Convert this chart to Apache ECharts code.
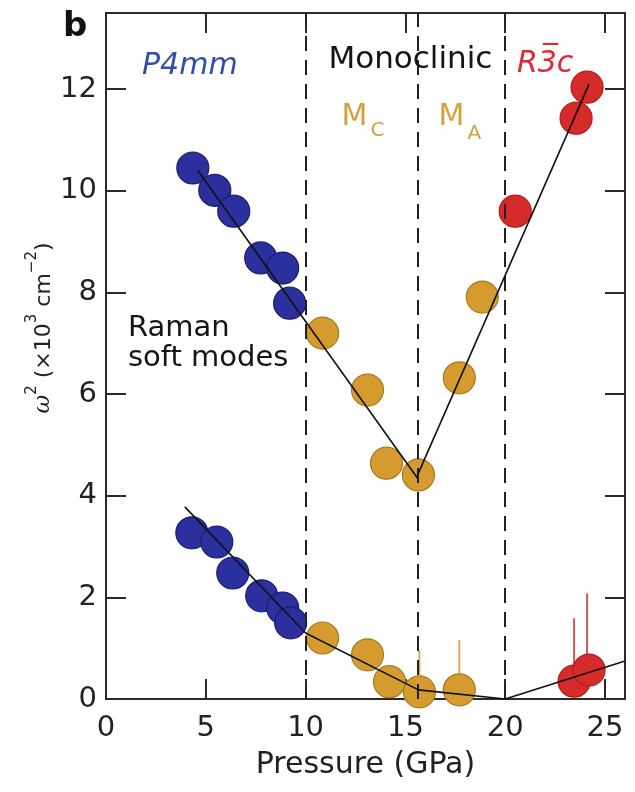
<!DOCTYPE html>
<html>
<head>
<meta charset="utf-8">
<script src="https://cdn.jsdelivr.net/npm/echarts@6/dist/echarts.min.js"></script>
<style>
  html, body { margin: 0; padding: 0; background: #fff; }
  #chart { width: 635px; height: 792px; }
</style>
</head>
<body>
<div id="chart"></div>
<script>
// Raman soft-mode frequencies squared (10^3 cm^-2) versus pressure (GPa)
// Upper branch
const tetraUpper = [[4.35, 10.45], [5.45, 10.01], [6.4, 9.6], [7.75, 8.68], [8.85, 8.48], [9.2, 7.79]];
const monoUpper = [[10.85, 7.2], [13.1, 6.08], [14.05, 4.64], [15.65, 4.41], [17.7, 6.32], [18.85, 7.91]];
const rhomboUpper = [[20.5, 9.6], [23.55, 11.43], [24.1, 12.04]];
// Lower branch
const tetraLower = [[4.3, 3.27], [5.55, 3.09], [6.35, 2.48], [7.8, 2.03], [8.85, 1.79], [9.25, 1.5]];
const monoLower = [[10.85, 1.2], [13.1, 0.87], [14.2, 0.34], [15.7, 0.14], [17.7, 0.18]];
const rhomboLower = [[23.45, 0.35], [24.2, 0.57]];
// Error bars: [pressure, value, upper limit]
const monoLowerErr = [[15.7, 0.14, 0.96], [17.7, 0.18, 1.16]];
const rhomboLowerErr = [[23.45, 0.35, 1.59], [24.1, 0.57, 2.08]];
// Guide lines through the data
const guideUpperLeft = [[4.6, 10.4], [15.6, 4.35]];
const guideUpperRight = [[15.6, 4.4], [24.2, 12.1]];
const guideLower = [[3.95, 3.78], [10, 1.3], [15.65, 0.18], [20, 0], [26, 0.75]];
// Phase boundaries (GPa)
const phaseBoundaries = [10, 15.6, 20];
// Axis ticks
const xTicks = [0, 5, 10, 15, 20, 25];
const yTicks = [0, 2, 4, 6, 8, 10, 12];

const FONT = 'DejaVu Sans';
const AXIS_COLOR = '#2a2a2a';
const BLUE = '#2c2f9e', BLUE_EDGE = '#1c1f6a';
const GOLD = '#d69b2e', GOLD_EDGE = '#a9781f';
const RED = '#d62b2b', RED_EDGE = '#b01c1c';
const MONO_TEXT = '#d4a23a';

const chart = echarts.init(document.getElementById('chart'), null, { renderer: 'canvas' });

function dots(name, data, fill, edge) {
  return {
    name, type: 'scatter', data, symbol: 'circle', symbolSize: 32, z: 3,
    itemStyle: { color: fill, borderColor: edge, borderWidth: 1.2, opacity: 1 },
    emphasis: { disabled: true }
  };
}
function guide(name, data) {
  return {
    name, type: 'line', data, showSymbol: false, symbol: 'none', z: 5,
    lineStyle: { color: '#111', width: 1.6 }, emphasis: { disabled: true }
  };
}
function errorBars(name, data, color) {
  return {
    name, type: 'custom', data, z: 2,
    renderItem(params, api) {
      const p0 = api.coord([api.value(0), api.value(1)]);
      const p1 = api.coord([api.value(0), api.value(2)]);
      return {
        type: 'line',
        shape: { x1: p0[0], y1: p0[1], x2: p1[0], y2: p1[1] },
        style: { stroke: color, lineWidth: 2 }
      };
    },
    encode: { x: 0, y: [1, 2] }
  };
}
function note(value, text, extra) {
  return {
    value,
    label: Object.assign({ show: true, position: 'inside', formatter: text,
      fontFamily: FONT, fontSize: 29, color: '#151515' }, extra || {})
  };
}

function frameAxis(extra, ticks) {
  return Object.assign({
    type: 'value',
    axisLine: { show: true, onZero: false, lineStyle: { color: AXIS_COLOR, width: 2 } },
    axisTick: { show: true, inside: true, length: 20, customValues: ticks, lineStyle: { color: AXIS_COLOR, width: 2 } },
    splitLine: { show: false }
  }, extra);
}

chart.setOption({
  animation: false,
  backgroundColor: '#fff',
  grid: { left: 106, right: 10, top: 13, bottom: 93, containLabel: false },
  xAxis: [
    frameAxis({
      min: 0, max: 26, position: 'bottom',
      axisLabel: { customValues: xTicks, fontFamily: FONT, fontSize: 29, color: '#222', margin: 15 },
      name: 'Pressure (GPa)', nameLocation: 'middle', nameGap: 51,
      nameTextStyle: { fontFamily: FONT, fontSize: 30, color: '#222' }
    }, xTicks),
    frameAxis({ min: 0, max: 26, position: 'top', axisLabel: { show: false } }, xTicks)
  ],
  yAxis: [
    frameAxis({
      min: 0, max: 13.5, position: 'left',
      axisLabel: { customValues: yTicks, fontFamily: FONT, fontSize: 29, color: '#222', margin: 9 }
    }, yTicks),
    frameAxis({ min: 0, max: 13.5, position: 'right', axisLabel: { show: false } }, yTicks)
  ],
  graphic: [
    {
      type: 'text', left: 63, top: 10,
      style: { text: 'b', font: 'bold 34px "DejaVu Sans"', fill: '#111' }
    },
    {
      type: 'text', x: 40, y: 328, rotation: Math.PI / 2,
      style: {
        text: '{w|ω}{s|2}{n| (×10}{s|3}{n| cm}{s|−2}{n|)}',
        align: 'center', verticalAlign: 'middle',
        rich: {
          w: { fontFamily: 'DejaVu Serif', fontStyle: 'italic', fontSize: 23, lineHeight: 30, verticalAlign: 'bottom', fill: '#222' },
          n: { fontFamily: FONT, fontSize: 22, lineHeight: 30, verticalAlign: 'bottom', fill: '#222' },
          s: { fontFamily: FONT, fontSize: 15, lineHeight: 18, verticalAlign: 'top', fill: '#222' }
        }
      }
    }
  ],
  series: [
    errorBars('mono-lower-err', monoLowerErr, '#d8ad55'),
    errorBars('rhombo-lower-err', rhomboLowerErr, '#c9585a'),
    dots('P4mm upper', tetraUpper, BLUE, BLUE_EDGE),
    dots('monoclinic upper', monoUpper, GOLD, GOLD_EDGE),
    dots('R3c upper', rhomboUpper, RED, RED_EDGE),
    dots('P4mm lower', tetraLower, BLUE, BLUE_EDGE),
    dots('monoclinic lower', monoLower, GOLD, GOLD_EDGE),
    dots('R3c lower', rhomboLower, RED, RED_EDGE),
    guide('upper left', guideUpperLeft),
    guide('upper right', guideUpperRight),
    guide('lower', guideLower),
    {
      name: 'phase boundaries', type: 'line', data: [], z: 6, silent: true,
      markLine: {
        silent: true, symbol: ['none', 'none'], animation: false,
        label: { show: false },
        lineStyle: { color: '#222', width: 2, type: [15, 9] },
        data: phaseBoundaries.map(v => ({ xAxis: v }))
      }
    },
    {
      name: 'labels', type: 'scatter', symbolSize: 0, z: 7, silent: true,
      itemStyle: { opacity: 1 },
      data: [
        note([4.2, 12.45], 'P4mm', { color: '#2f4fa8', fontStyle: 'italic', fontSize: 30 }),
        note([15.25, 12.57], 'Monoclinic', { fontSize: 31 }),
        note([22.0, 12.5], 'R3\u0305c', { color: '#dd2a3a', fontStyle: 'italic', fontSize: 30 }),
        note([12.45, 11.45], 'M', { color: MONO_TEXT, fontSize: 30 }),
        note([13.6, 11.18], 'C', { color: MONO_TEXT, fontSize: 20 }),
        note([17.3, 11.45], 'M', { color: MONO_TEXT, fontSize: 30 }),
        note([18.45, 11.12], 'A', { color: MONO_TEXT, fontSize: 20 }),
        note([1.1, 7.3], 'Raman', { align: 'left', offset: [0, 0] }),
        note([1.1, 6.7], 'soft modes', { align: 'left', offset: [0, 0] })
      ]
    }
  ]
});
</script>
</body>
</html>
